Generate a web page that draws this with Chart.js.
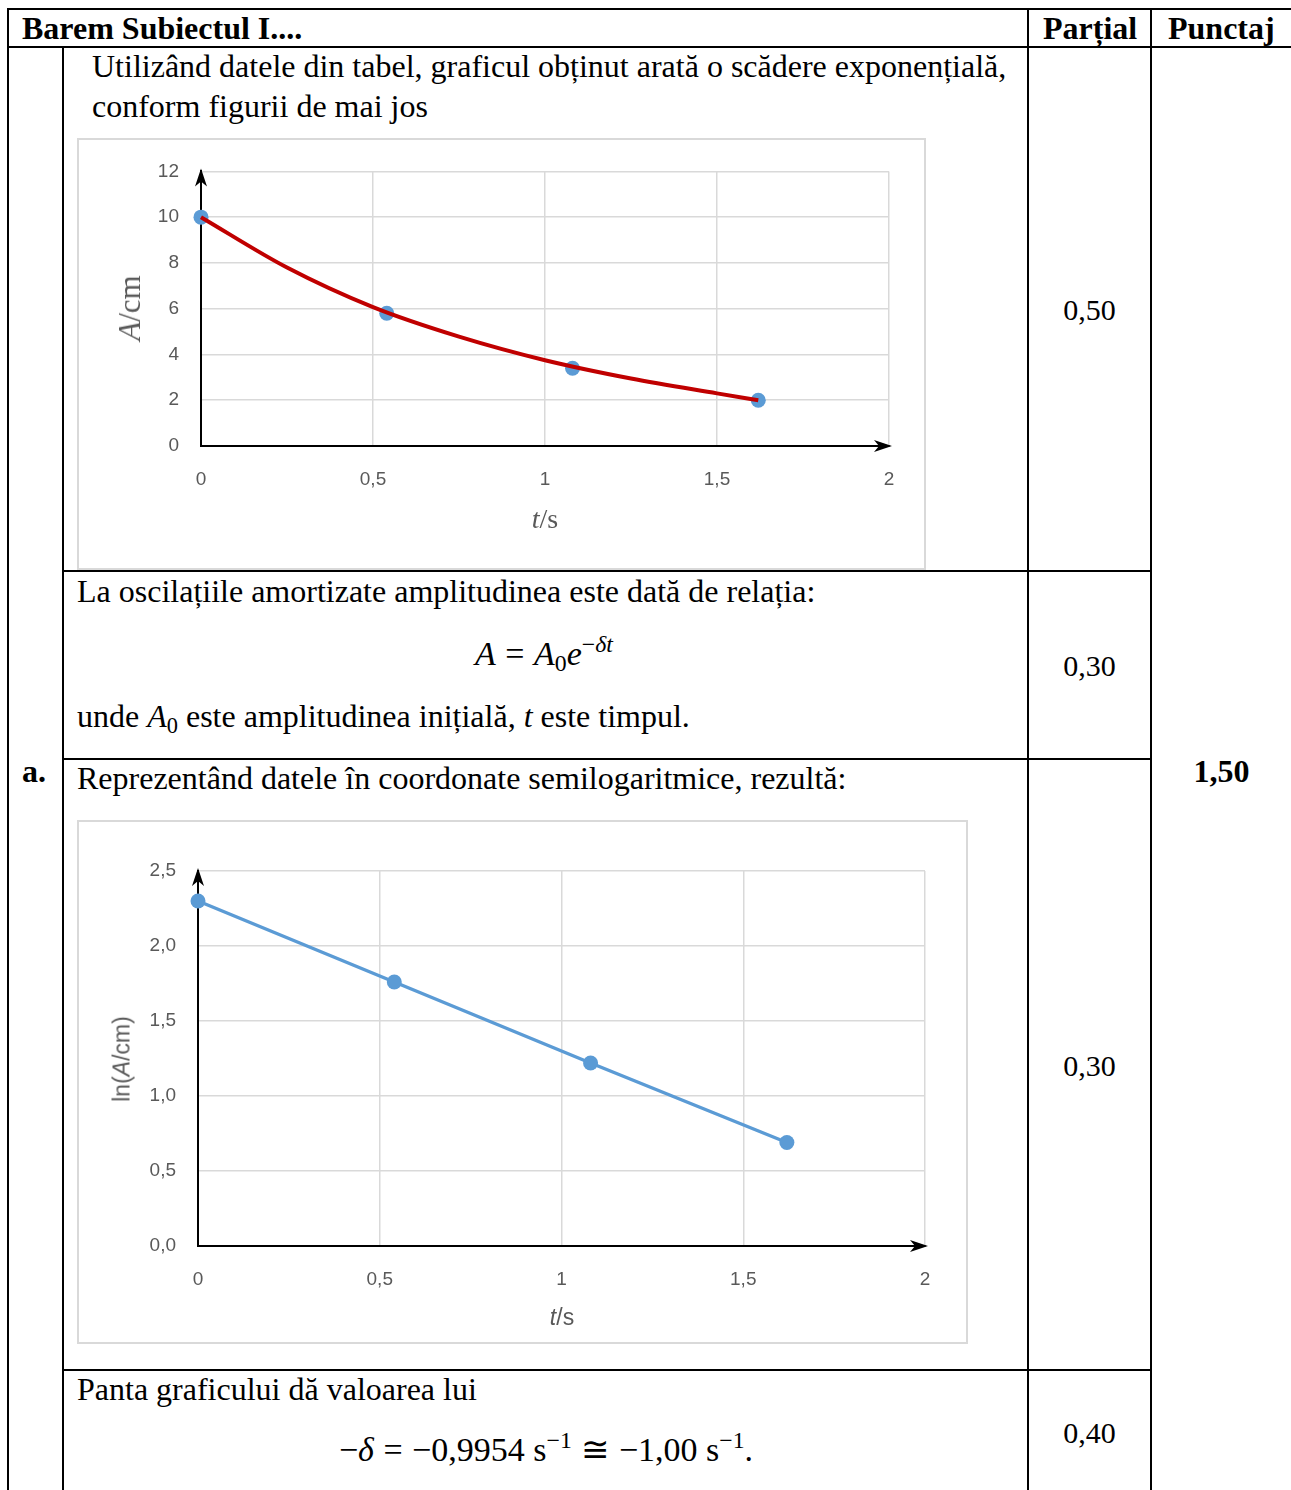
<!DOCTYPE html>
<html>
<head>
<meta charset="utf-8">
<script src="https://cdn.jsdelivr.net/npm/chart.js@4.4.1/dist/chart.umd.min.js"></script>
<style>
  html, body { margin: 0; padding: 0; background: #fff; }
  #page { position: relative; width: 1291px; height: 1490px; overflow: hidden; font-family: "Liberation Serif", "Times New Roman", serif; color: #000; }
  .ln { position: absolute; background: #000; }
  .t { position: absolute; font-size: 32px; line-height: 32px; white-space: nowrap; }
  .p { font-size: 30px; }
  .f { font-size: 34px; }
  .b { font-weight: bold; }
  .c { text-align: center; }
  .box { position: absolute; box-sizing: border-box; border: 2px solid #d9d9d9; }
  canvas.ch { position: absolute; }
  .ax { position: absolute; color: #595959; white-space: nowrap; }
  .rot { transform: translate(-50%, -50%) rotate(-90deg); }
  .ctr { transform: translate(-50%, -50%); }
  .sans { font-family: "Liberation Sans", Arial, sans-serif; }
  .op { display: inline-block; margin: 0 0.28em; }
  sub { font-size: 70%; vertical-align: -0.25em; line-height: 0; }
  sup { font-size: 70%; vertical-align: 0.55em; line-height: 0; }
</style>
</head>
<body>
<div id="page">
  <!-- table lines -->
  <div class="ln" style="left:7px;top:8px;width:1284px;height:2px"></div>
  <div class="ln" style="left:7px;top:46px;width:1284px;height:2px"></div>
  <div class="ln" style="left:7px;top:8px;width:2px;height:1482px"></div>
  <div class="ln" style="left:62px;top:46px;width:2px;height:1444px"></div>
  <div class="ln" style="left:1027px;top:8px;width:2px;height:1482px"></div>
  <div class="ln" style="left:1150px;top:8px;width:2px;height:1482px"></div>
  <div class="ln" style="left:62px;top:570px;width:1090px;height:2px"></div>
  <div class="ln" style="left:62px;top:758px;width:1090px;height:2px"></div>
  <div class="ln" style="left:62px;top:1369px;width:1090px;height:2px"></div>

  <!-- header -->
  <div class="t b" style="left:22px;top:12px">Barem Subiectul I....</div>
  <div class="t b" style="left:1043px;top:12px">Parțial</div>
  <div class="t b" style="left:1168px;top:12px">Punctaj</div>

  <!-- row texts -->
  <div class="t" style="left:92px;top:50px">Utilizând datele din tabel, graficul obținut arată o scădere exponențială,</div>
  <div class="t" style="left:92px;top:90px">conform figurii de mai jos</div>
  <div class="t c p" style="left:1029px;width:121px;top:294px">0,50</div>

  <div class="t" style="left:77px;top:575px">La oscilațiile amortizate amplitudinea este dată de relația:</div>
  <div class="t c f" style="left:394px;width:300px;top:638px"><i>A</i><span class="op">=</span><i>A</i><sub>0</sub><i>e</i><sup>−<i>δt</i></sup></div>
  <div class="t" style="left:77px;top:700px">unde <i>A</i><sub>0</sub> este amplitudinea inițială, <i>t</i> este timpul.</div>
  <div class="t c p" style="left:1029px;width:121px;top:650px">0,30</div>

  <div class="t b" style="left:22px;top:755px">a.</div>
  <div class="t" style="left:77px;top:762px">Reprezentând datele în coordonate semilogaritmice, rezultă:</div>
  <div class="t b c" style="left:1152px;width:139px;top:755px">1,50</div>
  <div class="t c p" style="left:1029px;width:121px;top:1050px">0,30</div>

  <div class="t" style="left:77px;top:1373px">Panta graficului dă valoarea lui</div>
  <div class="t c f" style="left:246px;width:600px;top:1434px">−<i>δ</i><span class="op">=</span>−0,9954 s<sup>−1</sup><span class="op">≅</span>−1,00 s<sup>−1</sup>.</div>
  <div class="t c p" style="left:1029px;width:121px;top:1417px">0,40</div>

  <!-- chart 1 -->
  <div class="box" style="left:77px;top:138px;width:849px;height:432px"></div>
  <canvas id="c1" class="ch" style="left:77px;top:138px" width="848" height="431"></canvas>
  <div class="ax rot" style="left:130px;top:308px;font-size:31px"><i>A</i>/cm</div>
  <div class="ax ctr" style="left:545px;top:519px;font-size:28px"><i>t</i>/s</div>

  <!-- chart 2 -->
  <div class="box" style="left:77px;top:820px;width:891px;height:524px"></div>
  <canvas id="c2" class="ch" style="left:77px;top:820px" width="890" height="523"></canvas>
  <div class="ax rot sans" style="left:122px;top:1059px;font-size:23px">ln(<i>A</i>/cm)</div>
  <div class="ax ctr sans" style="left:562px;top:1317px;font-size:23px"><i>t</i>/s</div>
</div>

<script>
// ---- data ----
const timeTop  = [0, 0.54, 1.08, 1.62];                      // t / s (measured points)
const ampTop   = [10, 5.8, 3.4, 2.0];                         // A / cm
const timeFit  = [0, 0.25, 0.5, 0.75, 1.0, 1.25, 1.5, 1.62];  // t / s along the red trendline
const ampFit   = [10, 7.8, 6.07, 4.78, 3.75, 2.95, 2.3, 2.0]; // A / cm
const timeLog  = [0, 0.54, 1.08, 1.62];                       // t / s
const lnAmp    = [2.30, 1.76, 1.22, 0.69];                    // ln(A/cm)
const xTickValues = [0, 0.5, 1, 1.5, 2];
const yTickTop    = [0, 2, 4, 6, 8, 10, 12];
const yTickLog    = [0, 0.5, 1.0, 1.5, 2.0, 2.5];

const pts = (xs, ys) => xs.map((x, i) => ({ x: x, y: ys[i] }));

const arrowPlugin = {
  id: 'arrows',
  afterDraw(chart) {
    const { ctx, chartArea: a } = chart;
    ctx.save();
    ctx.fillStyle = '#000';
    ctx.beginPath();
    ctx.moveTo(a.left, a.top - 3);
    ctx.lineTo(a.left - 6, a.top + 15);
    ctx.lineTo(a.left, a.top + 10);
    ctx.lineTo(a.left + 6, a.top + 15);
    ctx.closePath();
    ctx.fill();
    ctx.beginPath();
    ctx.moveTo(a.right + 3, a.bottom);
    ctx.lineTo(a.right - 15, a.bottom - 6);
    ctx.lineTo(a.right - 10, a.bottom);
    ctx.lineTo(a.right - 15, a.bottom + 6);
    ctx.closePath();
    ctx.fill();
    ctx.restore();
  }
};

const tickFont = { family: '"Liberation Sans", Arial, sans-serif', size: 19 };
const fmt = v => String(v).replace('.', ',');

function makeScales(yMin, yMax, yTicks, yFmt, yWidth, xHeight, yPad, xPad) {
  return {
    x: {
      type: 'linear', min: 0, max: 2,
      afterBuildTicks: s => { s.ticks = xTickValues.map(v => ({ value: v })); },
      afterFit: s => { s.height = xHeight; },
      ticks: { color: '#595959', font: tickFont, padding: xPad, callback: v => fmt(v), maxRotation: 0 },
      grid: { color: '#d9d9d9', lineWidth: 1.5, drawTicks: false },
      border: { display: true, color: '#000', width: 2 }
    },
    y: {
      type: 'linear', min: yMin, max: yMax,
      afterBuildTicks: s => { s.ticks = yTicks.map(v => ({ value: v })); },
      afterFit: s => { s.width = yWidth; },
      ticks: { color: '#595959', font: tickFont, padding: yPad, callback: yFmt },
      grid: { color: '#d9d9d9', lineWidth: 1.5, drawTicks: false },
      border: { display: true, color: '#000', width: 2 }
    }
  };
}

const common = {
  responsive: false,
  animation: false,
  events: [],
  plugins: { legend: { display: false }, tooltip: { enabled: false } }
};

new Chart(document.getElementById('c1'), {
  type: 'scatter',
  data: {
    datasets: [
      {
        label: 'trend', data: pts(timeFit, ampFit), showLine: true,
        borderColor: '#c00000', borderWidth: 4, pointRadius: 0,
        cubicInterpolationMode: 'monotone', clip: false, order: 0
      },
      {
        label: 'A', data: pts(timeTop, ampTop), showLine: false,
        pointRadius: 7.5, pointBackgroundColor: '#5b9bd5', pointBorderWidth: 0,
        clip: false, order: 1
      }
    ]
  },
  options: Object.assign({}, common, {
    layout: { padding: { left: 0, right: 36, top: 28, bottom: 0 } },
    scales: makeScales(0, 12, yTickTop, v => fmt(v), 124, 123, 22, 22)
  }),
  plugins: [arrowPlugin]
});

new Chart(document.getElementById('c2'), {
  type: 'scatter',
  data: {
    datasets: [
      {
        label: 'lnA', data: pts(timeLog, lnAmp), showLine: true,
        borderColor: '#5b9bd5', borderWidth: 3.5, pointRadius: 7.5,
        pointBackgroundColor: '#5b9bd5', pointBorderWidth: 0, tension: 0, clip: false
      }
    ]
  },
  options: Object.assign({}, common, {
    layout: { padding: { left: 0, right: 42, top: 51, bottom: 0 } },
    scales: makeScales(0, 2.5, yTickLog, v => v.toFixed(1).replace('.', ','), 121, 97, 22, 22)
  }),
  plugins: [arrowPlugin]
});
</script>
</body>
</html>
